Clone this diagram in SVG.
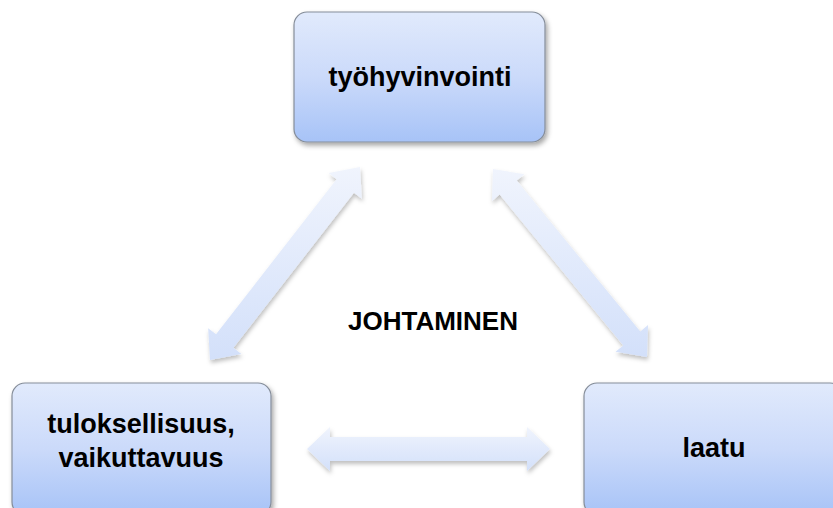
<svg xmlns="http://www.w3.org/2000/svg" width="833" height="508" viewBox="0 0 833 508">
  <defs>
    <linearGradient id="boxGrad" x1="0" y1="0" x2="0" y2="1">
      <stop offset="0" stop-color="#e1eafc"/>
      <stop offset="0.5" stop-color="#cbdafa"/>
      <stop offset="1" stop-color="#a7c3f7"/>
    </linearGradient>
    <linearGradient id="arrowGrad" x1="0" y1="0" x2="0" y2="1">
      <stop offset="0" stop-color="#f0f4fd"/>
      <stop offset="1" stop-color="#d3e0fa"/>
    </linearGradient>
    <filter id="shadow" x="-20%" y="-20%" width="140%" height="140%">
      <feDropShadow dx="2" dy="3" stdDeviation="2.5" flood-color="#000" flood-opacity="0.35"/>
    </filter>
    <filter id="ashadow" x="-20%" y="-20%" width="140%" height="140%">
      <feDropShadow dx="1" dy="3" stdDeviation="2" flood-color="#000" flood-opacity="0.25"/>
    </filter>
  </defs>
  <style>
    .box { fill: url(#boxGrad); stroke: #858d99; stroke-width: 1.2; filter: url(#shadow); }
    .arrow { fill: url(#arrowGrad); filter: url(#ashadow); }
    .lbl { font-family: "Liberation Sans", Arial, sans-serif; font-weight: bold; fill: #000; text-anchor: middle; }
  </style>
  <rect width="833" height="508" fill="#fff"/>

  <g id="connectors">
    <polygon class="arrow" points="210,360 241.31,353.94 233.42,347.80 353.96,192.70 361.85,198.84 360,167 328.69,173.06 336.58,179.20 216.04,334.30 208.15,328.16"/>
    <polygon class="arrow" points="493,169 524.46,174.26 516.72,180.60 640.30,331.46 648.04,325.12 647,357 615.54,351.74 623.28,345.40 499.70,194.54 491.96,200.88"/>
    <polygon class="arrow" points="307,449 330,427 330,437 527,437 527,427 550,449 527,471 527,461 330,461 330,471"/>
  </g>

  <g id="node-tyohyvinvointi">
    <rect class="box" x="294" y="12" width="251" height="130" rx="13" ry="13"/>
    <text class="lbl" x="420" y="86" font-size="27">työhyvinvointi</text>
  </g>

  <g id="node-tuloksellisuus">
    <rect class="box" x="12" y="383" width="259" height="132" rx="13" ry="13"/>
    <text class="lbl" x="141" y="433" font-size="27">tuloksellisuus,</text>
    <text class="lbl" x="141" y="467" font-size="27">vaikuttavuus</text>
  </g>

  <g id="node-laatu">
    <rect class="box" x="584" y="383" width="259" height="132" rx="13" ry="13"/>
    <text class="lbl" x="714" y="457" font-size="27">laatu</text>
  </g>

  <g id="label-johtaminen">
    <text class="lbl" x="433" y="330" font-size="26">JOHTAMINEN</text>
  </g>
</svg>
